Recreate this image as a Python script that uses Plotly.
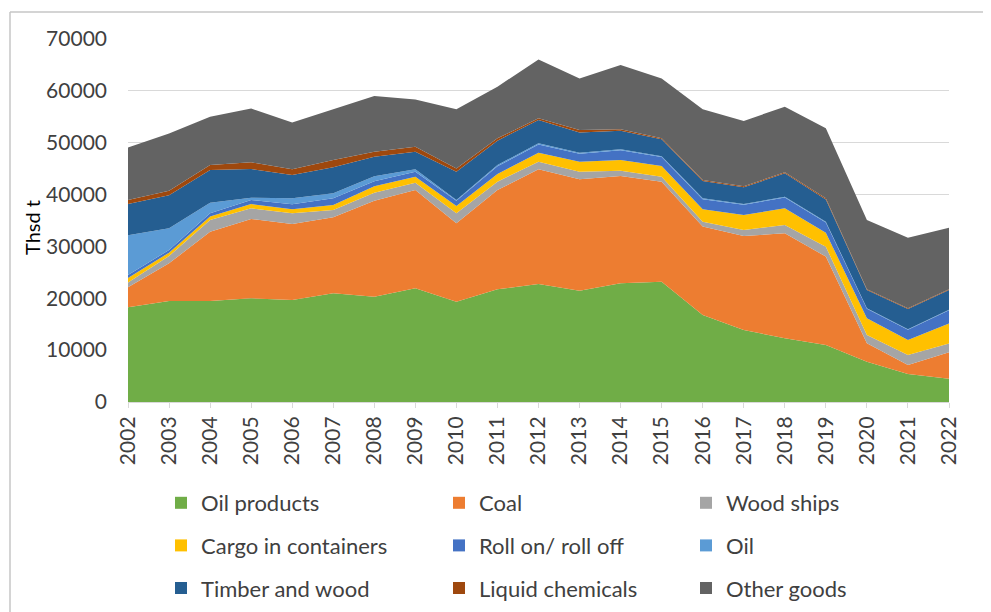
import plotly.graph_objects as go

years = list(range(2002, 2023))
year_labels = [str(y) for y in years]

oil_products = [18260, 19470, 19470, 20000, 19670, 20960, 20310, 21930, 19340, 21730, 22750,
                21470, 22890, 23200, 16780, 13880, 12280, 11000, 7770, 5400, 4500]
coal = [3860, 7270, 13370, 15290, 14650, 14650, 18510, 18950, 15120, 19150, 22120,
        21470, 20690, 19280, 17040, 18120, 20250, 17040, 3550, 1730, 5100]
wood_ships = [900, 1420, 2280, 2060, 2080, 1410, 1540, 1400, 1940, 1600, 1480,
              1480, 1030, 960, 960, 1160, 1610, 1920, 1600, 1930, 1700]
cargo_containers = [900, 640, 640, 830, 760, 960, 1230, 1160, 1400, 1480, 1730,
                    1930, 2050, 2070, 2370, 2890, 3210, 2700, 3220, 2890, 3850]
roll_on_off = [570, 510, 640, 770, 960, 1290, 970, 970, 1000, 1500, 1560,
               1530, 1880, 1720, 1970, 1980, 2080, 1970, 1830, 1960, 2550]
oil = [7650, 4180, 2030, 440, 1150, 970, 960, 450, 150, 240, 250,
       200, 200, 150, 150, 150, 150, 150, 100, 100, 100]
timber_wood = [6040, 6360, 6310, 5540, 4500, 5020, 3780, 3400, 5450, 4700, 4500,
               3870, 3570, 3270, 3330, 3220, 4510, 4290, 3510, 3910, 3800]
liquid_chemicals = [770, 900, 960, 1290, 1100, 1400, 960, 970, 650, 450, 320,
                    510, 280, 200, 200, 200, 200, 200, 150, 150, 150]
other_goods = [10150, 11050, 9300, 10380, 9030, 9780, 10740, 9110, 11390, 9950, 11360,
               9940, 12410, 11550, 13640, 12600, 12650, 13510, 13370, 13610, 11850]

series = [
    ("Oil products", oil_products, "#70AD47", "legend", 1),
    ("Coal", coal, "#ED7D31", "legend2", 1),
    ("Wood ships", wood_ships, "#A5A5A5", "legend3", 1),
    ("Cargo in containers", cargo_containers, "#FFC000", "legend", 2),
    ("Roll on/ roll off", roll_on_off, "#4472C4", "legend2", 2),
    ("Oil", oil, "#5B9BD5", "legend3", 2),
    ("Timber and wood", timber_wood, "#255E91", "legend", 3),
    ("Liquid chemicals", liquid_chemicals, "#9E480E", "legend2", 3),
    ("Other goods", other_goods, "#636363", "legend3", 3),
]

FONT = "Lato, 'Open Sans', sans-serif"
TXT = "#404040"

fig = go.Figure()
for name, vals, color, lg, row in series:
    fig.add_trace(go.Scatter(
        x=years, y=vals, name=name, mode="lines",
        line=dict(width=0, color=color), fillcolor=color,
        stackgroup="one", showlegend=False, hoverinfo="skip",
    ))

# legend-only entries (square swatches like the original)
order = sorted(series, key=lambda s: (s[4]))
for name, vals, color, lg, row in order:
    fig.add_trace(go.Bar(
        x=[None], y=[None], name=name, marker=dict(color=color, line=dict(width=0)),
        legend=lg, legendgroup=name, showlegend=True, hoverinfo="skip",
    ))

# page has an 8px body margin; figure sized to fit the 991x612 window
OFF = 8
W, H = 991 - OFF, 612 - OFF
L, R, T, B = 128 - OFF, 42, 39 - OFF, 210
pw, ph = W - L - R, H - T - B

def px(page_x):
    return (page_x - OFF - L) / pw

def py(page_y):
    return (H - B - (page_y - OFF)) / ph

def cx(page_x):
    return (page_x - OFF) / W

def cy(page_y):
    return 1 - (page_y - OFF) / H

legend_common = dict(
    orientation="v", yanchor="top", xanchor="left", xref="container", yref="container",
    font=dict(family=FONT, size=22, color=TXT),
    bgcolor="rgba(0,0,0,0)", borderwidth=0,
    traceorder="grouped", tracegroupgap=11, itemwidth=30,
)

fig.update_layout(
    width=W, height=H,
    margin=dict(l=L, r=R, t=T, b=B, autoexpand=False),
    paper_bgcolor="white", plot_bgcolor="white",
    font=dict(family=FONT, size=21, color=TXT),
    showlegend=True,
    legend=dict(x=cx(161), y=cy(482), **legend_common),
    legend2=dict(x=cx(439), y=cy(482), **legend_common),
    legend3=dict(x=cx(686), y=cy(482), **legend_common),
    xaxis=dict(
        range=[2002, 2022], tickmode="array", tickvals=years, ticktext=year_labels,
        tickangle=-90, showgrid=False, showline=True, linecolor="#D9D9D9", linewidth=1,
        ticks="outside", ticklen=5, tickcolor="#D9D9D9",
        tickfont=dict(family=FONT, size=21, color=TXT), zeroline=False,
    ),
    yaxis=dict(
        range=[0, 70000], dtick=10000, tickformat="d",
        showgrid=True, gridcolor="#D9D9D9", gridwidth=1, zeroline=False,
        showline=False, ticklabelstandoff=20,
        tickfont=dict(family=FONT, size=21, color=TXT),
    ),
    annotations=[
        dict(text="Thsd t", xref="paper", yref="paper", x=px(32), y=py(228),
             xanchor="center", yanchor="middle", textangle=-90, showarrow=False,
             font=dict(family=FONT, size=20, color="#000000")),
    ],
    shapes=[
        dict(type="line", xref="paper", yref="paper", x0=px(10), x1=px(1000), y0=py(12), y1=py(12),
             line=dict(color="#C6C6C6", width=1.5)),
        dict(type="line", xref="paper", yref="paper", x0=px(10), x1=px(10), y0=py(12), y1=py(620),
             line=dict(color="#C6C6C6", width=1.5)),
    ],
)

fig.write_html("out.html")
